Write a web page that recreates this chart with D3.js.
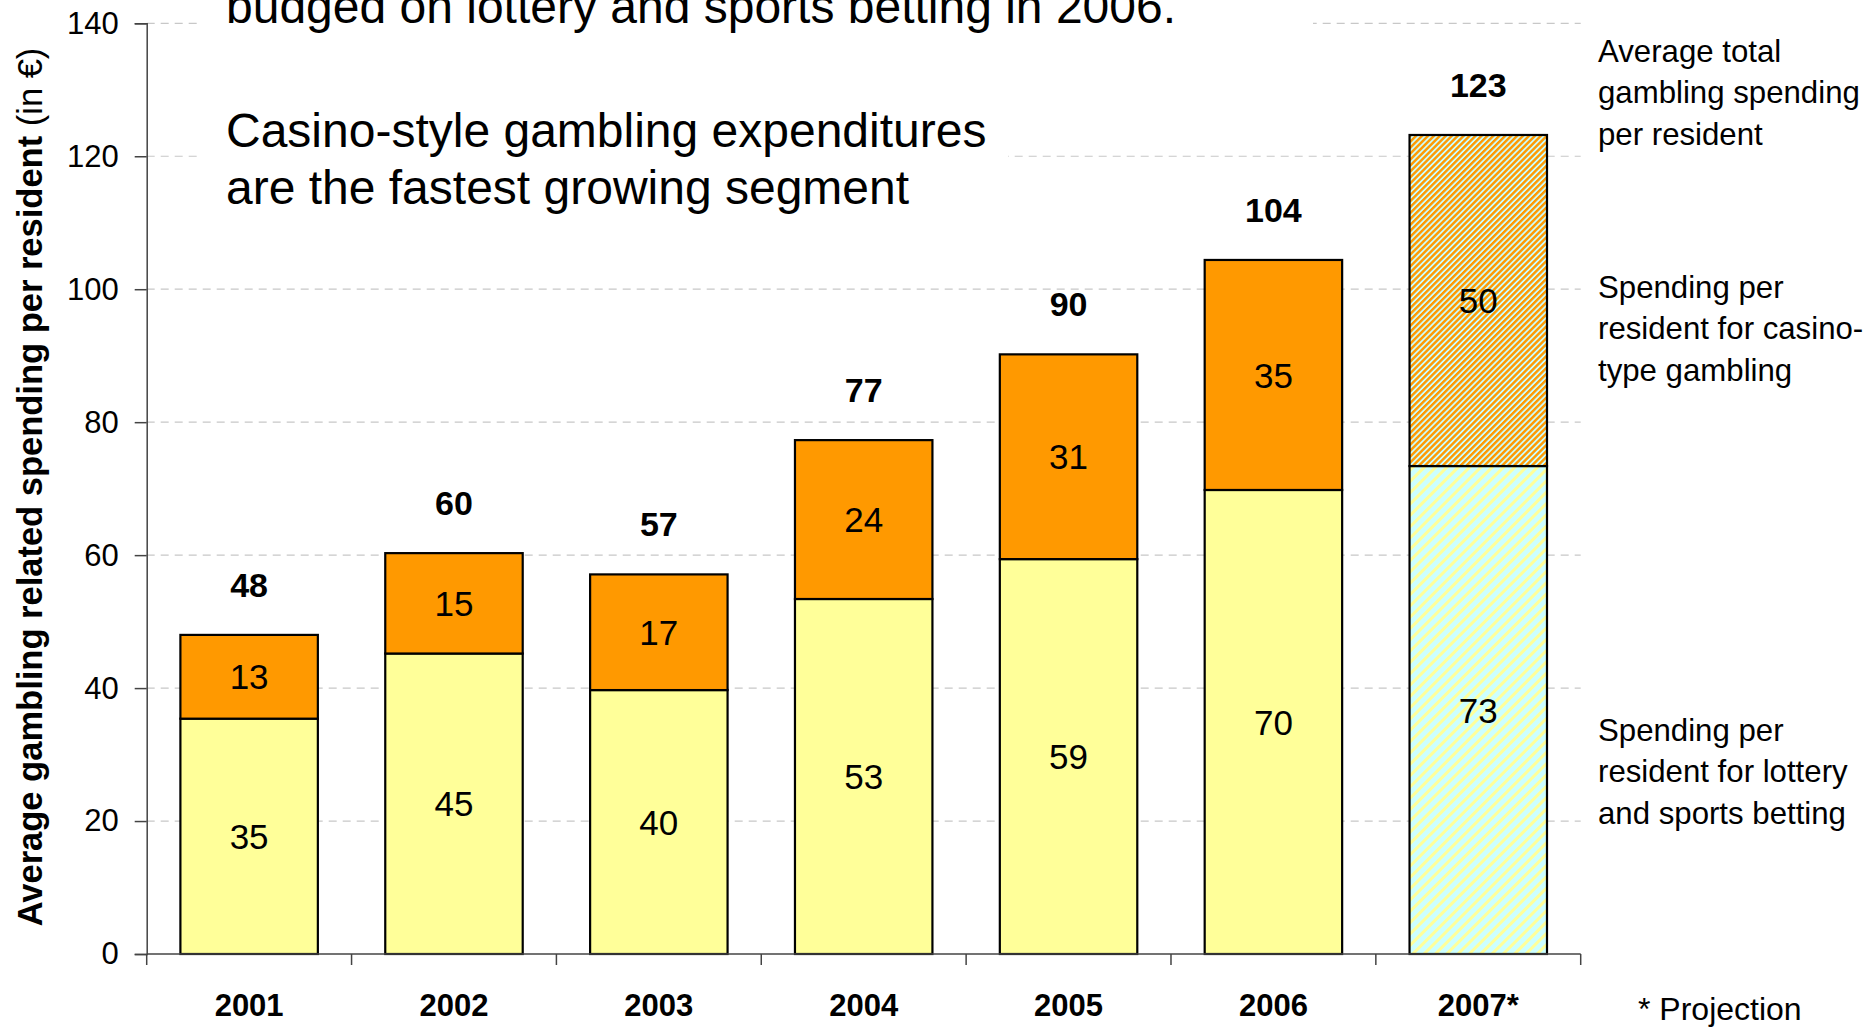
<!DOCTYPE html>
<html>
<head>
<meta charset="utf-8">
<script src="https://cdn.jsdelivr.net/npm/d3@7"></script>
<style>
  html, body { margin: 0; padding: 0; background: #fff; }
  svg { display: block; font-family: "Liberation Sans", Arial, Helvetica, sans-serif; }
</style>
</head>
<body>
<svg id="chart" width="1868" height="1029"></svg>
<script>
// Gambling spending per resident (EUR), by year
const years = ["2001", "2002", "2003", "2004", "2005", "2006", "2007*"];
const lotterySports = [35.4, 45.2, 39.7, 53.4, 59.4, 69.8, 73.4];
const casinoType = [12.6, 15.1, 17.4, 23.9, 30.8, 34.6, 49.8];
const projected = [false, false, false, false, false, false, true];
const yTicks = [0, 20, 40, 60, 80, 100, 120, 140];

const headlineTop = ["budged on lottery and sports betting in 2006."];
const headlineMain = ["Casino-style gambling expenditures", "are the fastest growing segment"];
const noteTotal = ["Average total", "gambling spending", "per resident"];
const noteCasino = ["Spending per", "resident for casino-", "type gambling"];
const noteLottery = ["Spending per", "resident for lottery", "and sports betting"];
const footnote = "* Projection";

(function () {
  const rows = years.map((yr, i) => ({
    year: yr,
    lottery: lotterySports[i],
    casino: casinoType[i],
    total: lotterySports[i] + casinoType[i],
    projected: projected[i]
  }));

  const svg = d3.select("#chart");
  const plotLeft = 146.7, plotRight = 1580.7, plotTop = 23.3, plotBottom = 954;

  const x = d3.scaleBand().domain(years).range([plotLeft, plotRight])
    .paddingInner(0.329).paddingOuter(0.1645);
  const y = d3.scaleLinear().domain([0, 140]).range([plotBottom, plotTop]);

  // hatch patterns for the projected year
  const defs = svg.append("defs");
  function hatch(id, bg, fg, size, stripe) {
    const p = defs.append("pattern").attr("id", id)
      .attr("patternUnits", "userSpaceOnUse")
      .attr("width", size).attr("height", size)
      .attr("patternTransform", "rotate(45)");
    p.append("rect").attr("width", size).attr("height", size).attr("fill", bg);
    p.append("rect").attr("width", stripe).attr("height", size).attr("fill", fg);
  }
  hatch("hatchLottery", "#ccffff", "#ffff99", 8, 3);
  hatch("hatchCasino", "#ccffff", "#ff9900", 4.2, 2.4);

  // gridlines
  svg.append("g").selectAll("line").data(yTicks.filter(t => t > 0)).join("line")
    .attr("x1", plotLeft).attr("x2", plotRight)
    .attr("y1", d => y(d)).attr("y2", d => y(d))
    .attr("stroke", "#c8c8c8").attr("stroke-width", 1.2)
    .attr("stroke-dasharray", "8,6");

  // white text boxes over the grid
  svg.append("rect").attr("x", 201).attr("y", 0).attr("width", 1112).attr("height", 46).attr("fill", "#fff");
  svg.append("rect").attr("x", 201).attr("y", 95).attr("width", 807).attr("height", 125).attr("fill", "#fff");

  // stacked bars
  const barG = svg.append("g");
  rows.forEach(r => {
    const bx = x(r.year), bw = x.bandwidth();
    barG.append("rect")
      .attr("x", bx).attr("width", bw)
      .attr("y", y(r.lottery)).attr("height", y(0) - y(r.lottery))
      .attr("fill", r.projected ? "url(#hatchLottery)" : "#ffff99")
      .attr("stroke", "#000").attr("stroke-width", 2.2);
    barG.append("rect")
      .attr("x", bx).attr("width", bw)
      .attr("y", y(r.total)).attr("height", y(r.lottery) - y(r.total))
      .attr("fill", r.projected ? "url(#hatchCasino)" : "#ff9900")
      .attr("stroke", "#000").attr("stroke-width", 2.2);

    const cx = bx + bw / 2;
    barG.append("text").attr("x", cx).attr("y", (y(0) + y(r.lottery)) / 2)
      .attr("dy", "0.36em").attr("text-anchor", "middle")
      .attr("font-size", 35).text(Math.round(r.lottery));
    barG.append("text").attr("x", cx).attr("y", (y(r.lottery) + y(r.total)) / 2)
      .attr("dy", "0.36em").attr("text-anchor", "middle")
      .attr("font-size", 35).text(Math.round(r.casino));
    barG.append("text").attr("x", cx).attr("y", y(r.total) - 38)
      .attr("text-anchor", "middle").attr("font-size", 34).attr("font-weight", "bold")
      .text(Math.round(r.total));
  });

  // y axis
  const yAxis = svg.append("g").attr("transform", `translate(${plotLeft},0)`)
    .call(d3.axisLeft(y).tickValues(yTicks).tickSize(12).tickPadding(16));
  yAxis.select(".domain").attr("stroke", "#444").attr("stroke-width", 1.5);
  yAxis.selectAll(".tick line").attr("stroke", "#444").attr("stroke-width", 1.5);
  yAxis.selectAll(".tick text").attr("font-size", 31).attr("fill", "#000")
    .attr("font-family", "Liberation Sans, Arial, sans-serif");

  // x axis: baseline with ticks at band boundaries
  const xAxisG = svg.append("g");
  xAxisG.append("line").attr("x1", plotLeft).attr("x2", plotRight)
    .attr("y1", plotBottom).attr("y2", plotBottom).attr("stroke", "#444").attr("stroke-width", 1.5);
  const bounds = years.map(d => x(d) - x.step() * x.paddingInner() / 2).concat([plotRight]);
  xAxisG.selectAll("line.tk").data(bounds).join("line").attr("class", "tk")
    .attr("x1", d => d).attr("x2", d => d).attr("y1", plotBottom).attr("y2", plotBottom + 11)
    .attr("stroke", "#444").attr("stroke-width", 1.5);
  xAxisG.selectAll("text").data(years).join("text")
    .attr("x", d => x(d) + x.bandwidth() / 2).attr("y", 1016)
    .attr("text-anchor", "middle").attr("font-size", 31).attr("font-weight", "bold")
    .text(d => d);

  // y axis title
  const yTitle = svg.append("text")
    .attr("transform", "translate(42,487) rotate(-90)")
    .attr("text-anchor", "middle").attr("font-size", 34.5);
  yTitle.append("tspan").attr("font-weight", "bold").text("Average gambling related spending per resident");
  yTitle.append("tspan").text(" (in €)");

  // headline text
  svg.append("g").selectAll("text").data(headlineTop).join("text")
    .attr("x", 226).attr("y", (d, i) => 23 + i * 57)
    .attr("font-size", 48).text(d => d);
  svg.append("g").selectAll("text").data(headlineMain).join("text")
    .attr("x", 226).attr("y", (d, i) => 147 + i * 56.5)
    .attr("font-size", 48).text(d => d);

  // right-hand notes
  function note(lines, baseY) {
    svg.append("g").selectAll("text").data(lines).join("text")
      .attr("x", 1598).attr("y", (d, i) => baseY + i * 41.3)
      .attr("font-size", 31.2).text(d => d);
  }
  note(noteTotal, 62);
  note(noteCasino, 298);
  note(noteLottery, 741);

  svg.append("text").attr("x", 1638).attr("y", 1020).attr("font-size", 32).text(footnote);
})();
</script>
</body>
</html>
